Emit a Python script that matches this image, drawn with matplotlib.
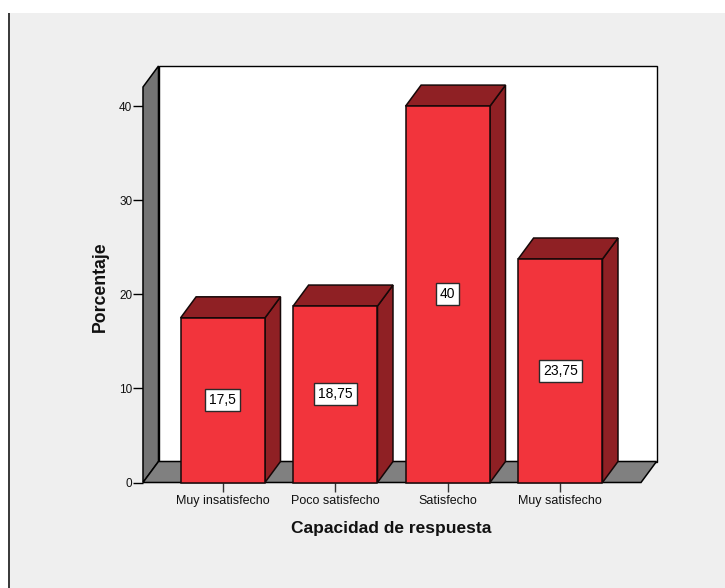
import matplotlib
matplotlib.use("Agg")
import matplotlib.pyplot as plt
from matplotlib.patches import Polygon, Rectangle

categories = ["Muy insatisfecho", "Poco satisfecho", "Satisfecho", "Muy satisfecho"]
values = [17.5, 18.75, 40, 23.75]
value_labels = ["17,5", "18,75", "40", "23,75"]
y_ticks = [0, 10, 20, 30, 40]
x_title = "Capacidad de respuesta"
y_title = "Porcentaje"

W, H = 725, 588
plt.rcParams["font.family"] = ["Liberation Sans", "DejaVu Sans"]

BG = "#efefef"
RED = "#f2343c"
DARK_RED = "#8f2024"
WALL = "#747474"
FLOOR = "#808080"
EDGE = "#150808"

fig = plt.figure(figsize=(W / 100, H / 100), dpi=100, facecolor="white")

# Panel background with the dark rule on its left side, kept behind the axes
fig.add_artist(Rectangle((9.5 / W, 0), 1 - 9.5 / W, 1 - 13 / H,
                         transform=fig.transFigure, fc=BG, ec="none", zorder=-2))
fig.add_artist(Rectangle((8 / W, 0), 2 / W, 1 - 13 / H,
                         transform=fig.transFigure, fc="#3c3c3c", ec="none", zorder=-1))

# Pixel frame of the plot: front plane starts at x=143, floor at y=482.5
left, right, top, bottom = 143.0, 656.5, 66.0, 482.5
ax = fig.add_axes([left / W, 1 - bottom / H, (right - left) / W, (bottom - top) / H])
px_x = 112.5          # pixels per category
px_y = 9.41           # pixels per percentage point
x0 = 222.8            # pixel centre of the first category
ax.set_xlim((left - x0) / px_x, (right - x0) / px_x)
ax.set_ylim(0, (bottom - top) / px_y)
ax.patch.set_visible(False)
for s in ax.spines.values():
    s.set_visible(False)

dx = 15.5 / px_x      # oblique depth along x
dy = 21.0 / px_y      # oblique depth along y
xa, xb = ax.get_xlim()
ya, yb = ax.get_ylim()
xb_front = xb - dx

# Back wall, side wall and floor
ax.add_patch(Rectangle((xa + dx, dy), xb - xa - dx, yb - dy, fc="white", ec="black", lw=1.0,
                       zorder=1, clip_on=False))
ax.add_patch(Polygon([(xa, 0), (xa + dx, dy), (xa + dx, yb), (xa, yb - dy)],
                     closed=True, fc=WALL, ec="black", lw=1.1, zorder=2, clip_on=False))
ax.add_patch(Polygon([(xa, 0), (xb_front, 0), (xb, dy), (xa + dx, dy)],
                     closed=True, fc=FLOOR, ec="black", lw=1.1, zorder=2, clip_on=False))

# Oblique bars with front, side and top faces
bar_w = 0.75
for i, (v, lab) in enumerate(zip(values, value_labels)):
    l, r = i - bar_w / 2, i + bar_w / 2
    ax.add_patch(Polygon([(r, 0), (r + dx, dy), (r + dx, v + dy), (r, v)],
                         closed=True, fc=DARK_RED, ec=EDGE, lw=1.1, zorder=3))
    ax.add_patch(Polygon([(l, v), (r, v), (r + dx, v + dy), (l + dx, v + dy)],
                         closed=True, fc=DARK_RED, ec=EDGE, lw=1.1, zorder=3))
    ax.add_patch(Rectangle((l, 0), bar_w, v, fc=RED, ec=EDGE, lw=1.1, zorder=4, clip_on=False))
    ax.text(i, v / 2, lab, ha="center", va="center", fontsize=10, color="black", zorder=5,
            bbox=dict(boxstyle="square,pad=0.28", fc="white", ec="#2a2a2a", lw=1.0))

# Axis ticks and labels
ax.set_xticks(range(len(categories)))
ax.set_xticklabels(categories, fontsize=9.0, color="#111111")
ax.set_yticks(y_ticks)
ax.set_yticklabels([str(t) for t in y_ticks], fontsize=8.5, color="#111111")
ax.tick_params(axis="x", length=6.5, width=1.0, pad=2.5, color="#333333")
ax.tick_params(axis="y", length=7.2, width=1.0, pad=0.5, color="black")

fig.text(391 / W, 1 - 529 / H, x_title, ha="center", va="center",
         fontsize=12.5, fontweight="bold", color="#111111")
fig.text(100 / W, 1 - 287 / H, y_title, ha="center", va="center", rotation=90,
         fontsize=12.7, fontweight="bold", color="#111111")

fig.savefig("out.png", dpi=100, facecolor=fig.get_facecolor())
